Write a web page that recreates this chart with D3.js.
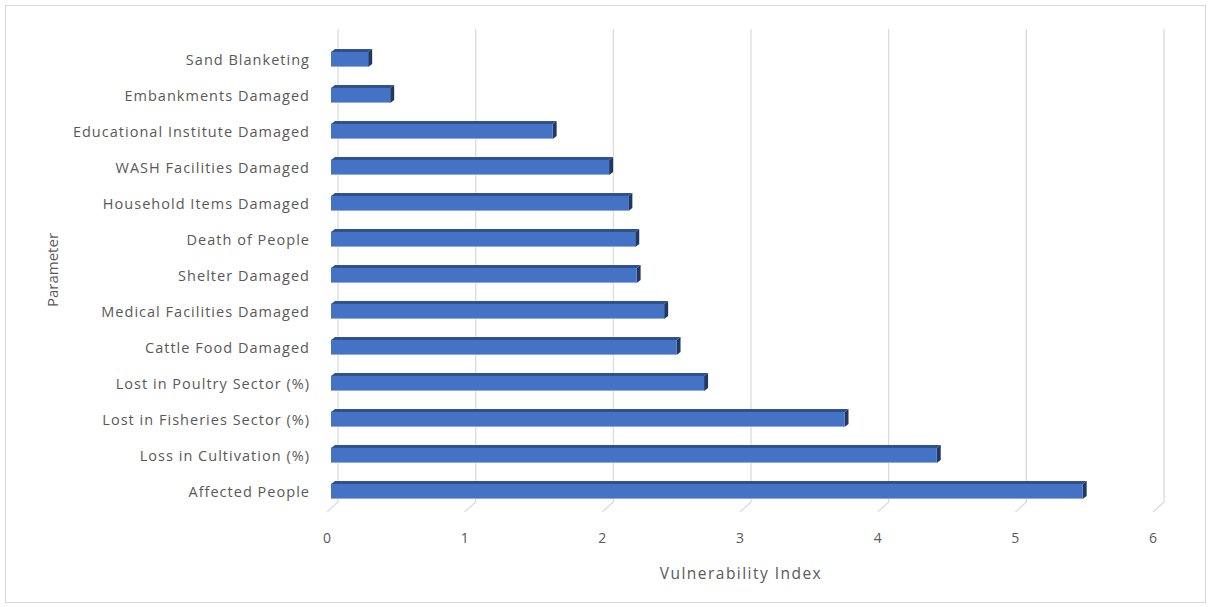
<!DOCTYPE html>
<html><head><meta charset="utf-8">
<script src="https://cdn.jsdelivr.net/npm/d3@7"></script>
<style>
html,body{margin:0;padding:0;background:#fff;}
text{font-family:"Open Sans",sans-serif;fill:#595959;}
</style></head>
<body>
<svg id="chart" width="1211" height="607"></svg>
<script>
const categories = ["Sand Blanketing","Embankments Damaged","Educational Institute Damaged","WASH Facilities Damaged","Household Items Damaged","Death of People","Shelter Damaged","Medical Facilities Damaged","Cattle Food Damaged","Lost in Poultry Sector (%)","Lost in Fisheries Sector (%)","Loss in Cultivation (%)","Affected People"];
const values = [0.27,0.43,1.61,2.02,2.16,2.21,2.22,2.42,2.51,2.71,3.73,4.40,5.46];
const xTicks = [0,1,2,3,4,5,6];
const xTitle = "Vulnerability Index";
const yTitle = "Parameter";

const svg = d3.select("#chart");
svg.append("rect").attr("x",5.5).attr("y",5.5).attr("width",1200).attr("height",597)
  .attr("fill","#fff").attr("stroke","#d9d9d9");

// front plane scale
const x = d3.scaleLinear().domain([0,6]).range([327,1153]);
const depthX = 11, depthY = 10;       // back wall offset
const y = d3.scaleBand().domain(categories).range([40,508]).paddingInner(0.5).paddingOuter(0.25);
const floorY = 512;

// gridlines (back wall + floor diagonal)
const g = svg.append("g");
xTicks.forEach(t=>{
  const xf = x(t), xb = xf+depthX;
  g.append("path").attr("d",`M${xb},29 L${xb},${floorY-depthY} L${xf},${floorY}`)
   .attr("fill","none").attr("stroke","#dcdcdc").attr("stroke-width",1.3);
});

// bars (3D)
const bx0 = 4, bdx = 4, bdy = 3; // bar depth offsets
const bars = svg.append("g");
categories.forEach((c,i)=>{
  const x0 = x(0)+bx0, x1 = x(values[i])+bx0;
  const top = y(c)+bdy, h = y.bandwidth()-bdy;
  bars.append("path").attr("d",`M${x0},${top} L${x1},${top} L${x1+bdx},${top-bdy} L${x0+bdx},${top-bdy}Z`)
    .attr("fill","#2f528f");
  bars.append("path").attr("d",`M${x1},${top} L${x1+bdx},${top-bdy} L${x1+bdx},${top+h-bdy} L${x1},${top+h}Z`)
    .attr("fill","#1f3864");
  bars.append("rect").attr("x",x0).attr("y",top).attr("width",x1-x0).attr("height",h)
    .attr("fill","#4472c4");
  bars.append("line").attr("x1",x0).attr("x2",x1).attr("y1",top+h-0.5).attr("y2",top+h-0.5)
    .attr("stroke","#8faadc").attr("stroke-width",1);
});

// category labels
const labels = svg.append("g").selectAll("text").data(categories).join("text")
  .attr("x",310).attr("y",d=>y(d)+bdy+(y.bandwidth()-bdy)/2)
  .attr("text-anchor","end").attr("dominant-baseline","central")
  .attr("font-size",14.5).text(d=>d);
const ref = labels.filter(d=>d==="Educational Institute Damaged").node();
const w2 = ref.getComputedTextLength();
if (w2 < 236) labels.attr("letter-spacing",((236-w2)/28).toFixed(2));

// x tick labels
svg.append("g").selectAll("text").data(xTicks).join("text")
  .attr("x",d=>x(d)).attr("y",537).attr("text-anchor","middle").attr("dominant-baseline","central")
  .attr("font-size",14).text(d=>d);

function fit(sel, target){
  const n = sel.node(); const w = n.getComputedTextLength();
  const len = n.textContent.length;
  if (w < target) sel.attr("letter-spacing", ((target-w)/(len-1)).toFixed(2));
}
const xt = svg.append("text").attr("x",741).attr("y",573).attr("text-anchor","middle").attr("dominant-baseline","central")
  .attr("font-size",15.5).text(xTitle);
fit(xt,161);
const yt = svg.append("text").attr("transform","translate(52,270) rotate(-90)").attr("text-anchor","middle")
  .attr("dominant-baseline","central").attr("font-size",15).text(yTitle);
fit(yt,72);
</script>
</body></html>
